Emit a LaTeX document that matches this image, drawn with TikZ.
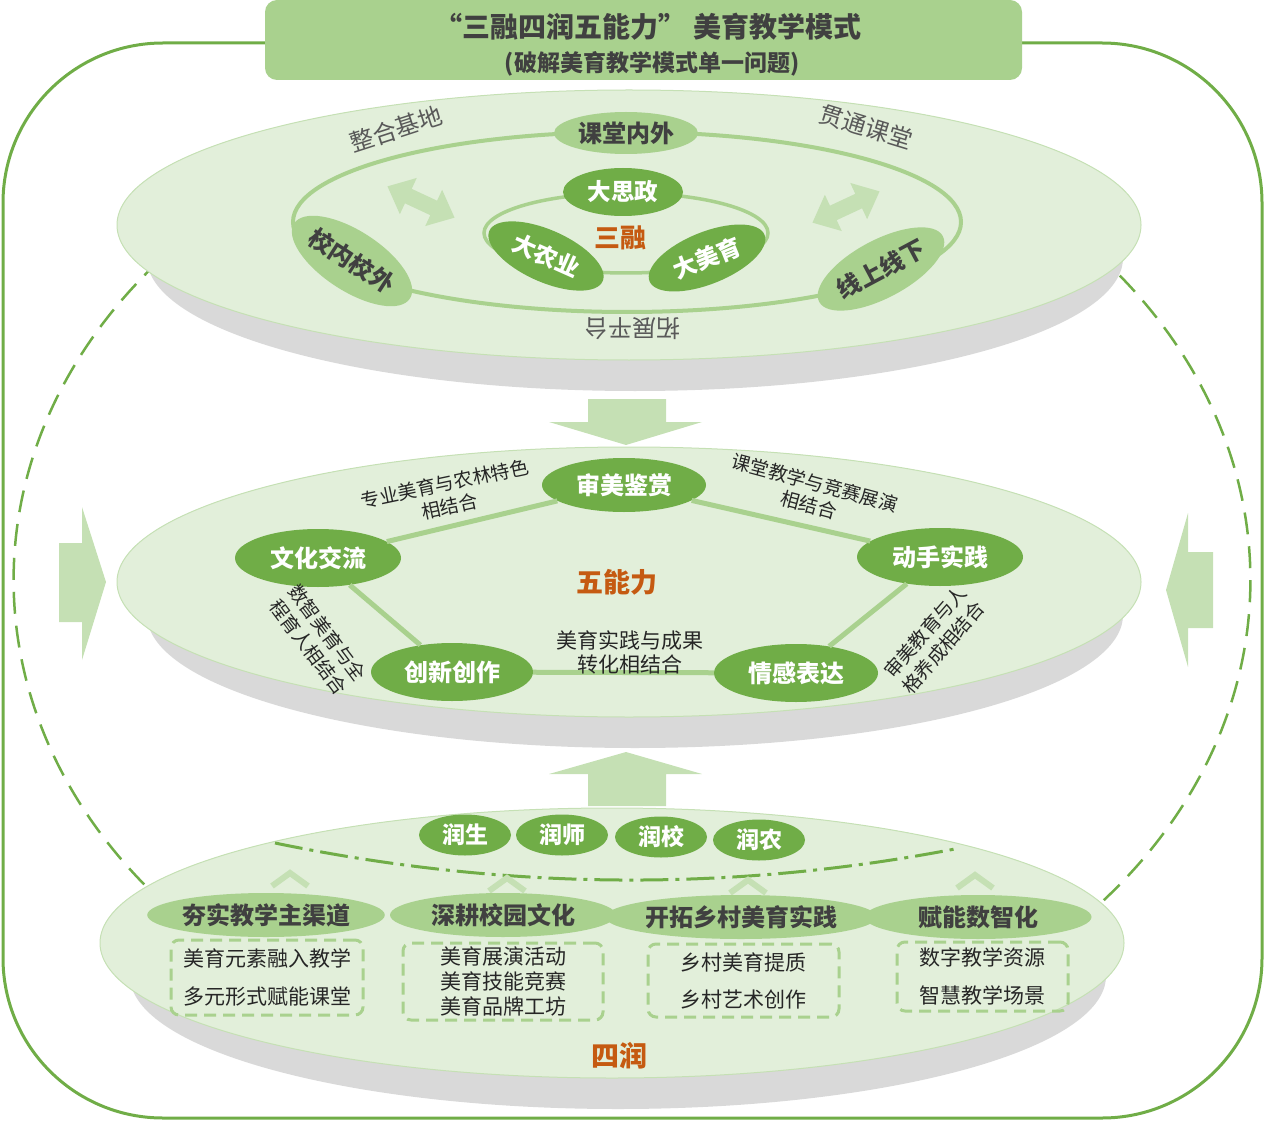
\documentclass[tikz,border=0pt]{standalone}
\usepackage{fontspec}
\setmainfont{Noto Sans CJK SC}
\usetikzlibrary{shapes.geometric}
\definecolor{dg}{HTML}{70AD47}
\definecolor{lg}{HTML}{A9D18E}
\definecolor{pg}{HTML}{E2EFDA}
\definecolor{ag}{HTML}{C5E0B4}
\definecolor{og}{HTML}{C55A11}
\definecolor{tg}{HTML}{404040}
\definecolor{lgray}{HTML}{595959}
\definecolor{sh}{HTML}{D9D9D9}
\definecolor{tk}{HTML}{262626}
\begin{document}
\begin{tikzpicture}[x=1pt,y=-1pt,
  darknode/.style={ellipse, fill=dg, text=white, font=\bfseries\fontsize{24}{26}\selectfont, inner sep=0pt},
  lightnode/.style={ellipse, fill=lg, text=tg, font=\bfseries\fontsize{24}{26}\selectfont, inner sep=0pt},
  orangetxt/.style={text=og, font=\bfseries\fontsize{27}{29}\selectfont, inner sep=0pt},
  graylabel/.style={text=lgray, font=\fontsize{24}{26}\selectfont, inner sep=0pt},
  edgelabel/.style={text=tk, font=\fontsize{19}{23}\selectfont, align=center, inner sep=0pt},
  catnode/.style={ellipse, fill=lg, text=tg, font=\bfseries\fontsize{24}{26}\selectfont, inner sep=0pt, minimum height=44pt},
  dbox/.style={draw=lg, line width=3pt, dash pattern=on 12pt off 7pt, rounded corners=8pt, text=tk, align=center, inner sep=0pt},
  blockarrow/.style={fill=ag},
  ring/.style={draw=lg, line width=4pt},
  penta/.style={draw=lg, line width=5pt},
  discshadow/.style={fill=sh},
  disctop/.style={draw=ag, fill=pg, line width=1pt},
  chev/.style={draw=ag, line width=6pt},
  dbl/.style={fill=ag}
]
\useasboundingbox (0,0) rectangle (1266,1123);

% outer frame
\draw[dg, line width=3pt, rounded corners=160pt] (3,43) rectangle (1262,1118);

% dashed big ellipse sides
\draw[dg, line width=2.5pt, dash pattern=on 22pt off 12pt] (194.6,930) arc[start angle=135, end angle=225, x radius=618, y radius=495];
\draw[dg, line width=2.5pt, dash pattern=on 22pt off 12pt] (1069.4,230) arc[start angle=-45, end angle=45, x radius=618, y radius=495];

% title
\node[fill=lg, rounded corners=12pt, minimum width=757pt, minimum height=80pt, inner sep=0pt] (titlebox) at (643.5,40) {};
\node[text=tg, font=\bfseries\fontsize{28}{30}\selectfont, inner sep=0pt] (title1) at (648,27) {“三融四润五能力” 美育教学模式};
\node[text=tg, font=\bfseries\fontsize{23}{25}\selectfont, inner sep=0pt] (title2) at (652,64) {(破解美育教学模式单一问题)};

% side arrows
\fill[blockarrow] (59,543) -- (82,543) -- (82,507) -- (106,582) -- (82,660) -- (82,622) -- (59,622) -- cycle;
\fill[blockarrow] (1213,552) -- (1188,552) -- (1188,513) -- (1166,590) -- (1188,667) -- (1188,628) -- (1213,628) -- cycle;
% down / up arrows
\fill[blockarrow] (588,399) -- (666,399) -- (666,422) -- (702,422) -- (626,445) -- (549,422) -- (588,422) -- cycle;
\fill[blockarrow] (626,752) -- (702,774) -- (666,774) -- (666,806) -- (588,806) -- (588,774) -- (549,774) -- cycle;

% ===== top disc =====
\fill[discshadow] (635,258) ellipse [x radius=488, y radius=133];
\draw[disctop] (629,225) ellipse [x radius=512, y radius=135];
\draw[ring] (627,222) ellipse [x radius=334, y radius=90];
\draw[ring, line width=3.5pt] (626,233) ellipse [x radius=142, y radius=40];

\begin{scope}[shift={(421,202)}, rotate=-25]
\fill[dbl] (-37,0) -- (-14,-20) -- (-14,-8) -- (14,-8) -- (14,-20) -- (37,0) -- (14,20) -- (14,8) -- (-14,8) -- (-14,20) -- cycle;
\end{scope}
\begin{scope}[shift={(846,207)}, rotate=25]
\fill[dbl] (-37,0) -- (-14,-20) -- (-14,-8) -- (14,-8) -- (14,-20) -- (37,0) -- (14,20) -- (14,8) -- (-14,8) -- (-14,20) -- cycle;
\end{scope}

\node[graylabel, rotate=18] (zhjd) at (396,129) {整合基地};
\node[graylabel, rotate=-17] (gtkt) at (866,127) {贯通课堂};
\node[graylabel, rotate=180] (tzpt) at (632,329) {拓展平台};

\node[lightnode, minimum width=144pt, minimum height=42pt] (ktnw) at (626,133) {课堂内外};
\node[lightnode, minimum width=138pt, minimum height=60pt, rotate=-33] (xnxw) at (352,261) {校内校外};
\node[lightnode, minimum width=140pt, minimum height=58pt, rotate=28] (xsxx) at (881,269) {线上线下};
\node[darknode, minimum width=120pt, minimum height=48pt, font=\bfseries\fontsize{23.5}{25}\selectfont] (dsz) at (623,192) {大思政};
\node[darknode, minimum width=124pt, minimum height=52pt, rotate=-24, font=\bfseries\fontsize{23.5}{25}\selectfont] (dny) at (546,256) {大农业};
\node[darknode, minimum width=124pt, minimum height=52pt, rotate=22, font=\bfseries\fontsize{23.5}{25}\selectfont] (dmy) at (707,258) {大美育};
\node[orangetxt, font=\bfseries\fontsize{26}{28}\selectfont] (srong) at (620,238) {三融};

% ===== middle disc =====
\fill[discshadow] (635,615) ellipse [x radius=488, y radius=133];
\draw[disctop] (629,582) ellipse [x radius=512, y radius=135];

\node[darknode, minimum width=164pt, minimum height=54pt] (smjs) at (624,485) {审美鉴赏};
\node[darknode, minimum width=166pt, minimum height=58pt] (whjl) at (318,558) {文化交流};
\node[darknode, minimum width=166pt, minimum height=58pt] (dssj) at (940,557) {动手实践};
\node[darknode, minimum width=162pt, minimum height=58pt] (cxcz) at (452,672) {创新创作};
\node[darknode, minimum width=164pt, minimum height=58pt] (qgbd) at (796,673) {情感表达};
\draw[penta] (whjl) -- (smjs);
\draw[penta] (smjs) -- (dssj);
\draw[penta] (dssj) -- (qgbd);
\draw[penta] (qgbd) -- (cxcz);
\draw[penta] (cxcz) -- (whjl);
\node[orangetxt] (wnl) at (617,582) {五能力};

\node[edgelabel, rotate=12] (lab1) at (447,495) {专业美育与农林特色\\相结合};
\node[edgelabel, rotate=-15] (lab2) at (812,494) {课堂教学与竞赛展演\\相结合};
\node[edgelabel, rotate=-53, font=\fontsize{19}{24}\selectfont] (lab3) at (318,640) {数智美育与全\\程育人相结合};
\node[edgelabel, rotate=49, font=\fontsize{19}{24}\selectfont] (lab4) at (934,640) {审美教育与人\\格养成相结合};
\node[edgelabel, font=\fontsize{21}{24}\selectfont] (lab5) at (630,652) {美育实践与成果\\转化相结合};

% ===== bottom disc =====
\fill[discshadow] (618,976) ellipse [x radius=488, y radius=133];
\draw[disctop] (612,943) ellipse [x radius=512, y radius=135];

\draw[dg, line width=3pt, dash pattern=on 28pt off 7pt on 4pt off 7pt] (275,843) .. controls (507,891) and (735,892) .. (960,848);

\node[darknode, minimum width=92pt, minimum height=41pt, font=\bfseries\fontsize{23}{25}\selectfont] (rs) at (465,835) {润生};
\node[darknode, minimum width=92pt, minimum height=41pt, font=\bfseries\fontsize{23}{25}\selectfont] (rsh) at (562,835) {润师};
\node[darknode, minimum width=92pt, minimum height=41pt, font=\bfseries\fontsize{23}{25}\selectfont] (rx) at (661,837) {润校};
\node[darknode, minimum width=92pt, minimum height=41pt, font=\bfseries\fontsize{23}{25}\selectfont] (rn) at (759,840) {润农};

\draw[chev] (272,886) -- (290,873) -- (308,886);
\draw[chev] (489,891) -- (507,878) -- (525,891);
\draw[chev] (730,893) -- (748,880) -- (766,893);
\draw[chev] (957,888) -- (975,875) -- (993,888);

\node[catnode, minimum width=226pt] (hs) at (266,915) {夯实教学主渠道};
\node[catnode, minimum width=226pt] (sg) at (503,915) {深耕校园文化};
\node[catnode, minimum width=224pt] (kt) at (741,917) {开拓乡村美育实践};
\node[catnode, minimum width=227pt] (fn) at (978,917) {赋能数智化};

\node[dbox, minimum width=192pt, minimum height=75pt, font=\fontsize{21}{38}\selectfont] (b1) at (267,977.5) {美育元素融入教学\\多元形式赋能课堂};
\node[dbox, minimum width=200pt, minimum height=77pt, font=\fontsize{21}{25}\selectfont] (b2) at (503,981.5) {美育展演活动\\美育技能竞赛\\美育品牌工坊};
\node[dbox, minimum width=191pt, minimum height=73pt, font=\fontsize{21}{37}\selectfont] (b3) at (743.5,980.5) {乡村美育提质\\乡村艺术创作};
\node[dbox, minimum width=171pt, minimum height=69pt, font=\fontsize{21}{38}\selectfont] (b4) at (982.5,976.5) {数字教学资源\\智慧教学场景};

\node[orangetxt, font=\bfseries\fontsize{28}{30}\selectfont] (sirun) at (619,1056) {四润};
\end{tikzpicture}
\end{document}
